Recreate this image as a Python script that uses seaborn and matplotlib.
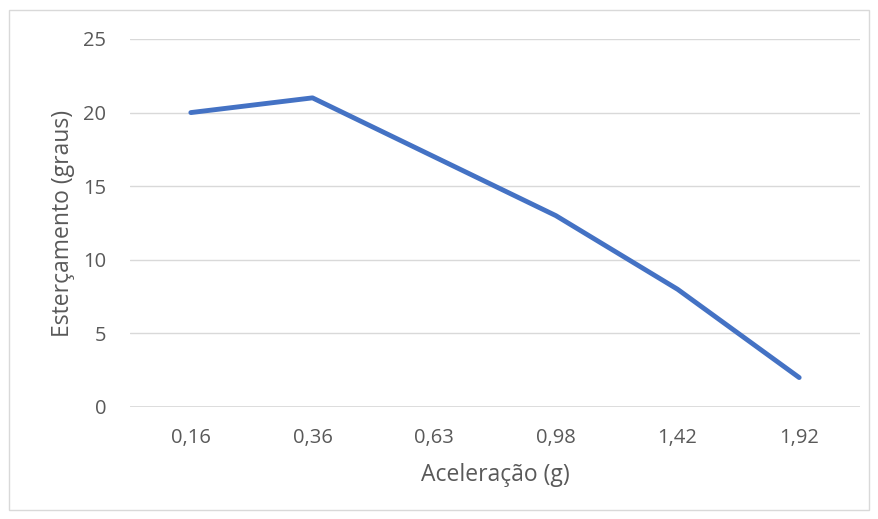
import matplotlib
matplotlib.use("Agg")
import matplotlib.pyplot as plt
import seaborn as sns
import pandas as pd
from matplotlib.patches import Rectangle

# Data
aceleracao = ['0,16', '0,36', '0,63', '0,98', '1,42', '1,92']
estercamento = [20, 21, 17, 13, 8, 2]

df = pd.DataFrame({'Aceleração': aceleracao, 'Esterçamento': estercamento})

sns.set_theme(style="white")
plt.rcParams['font.family'] = ['Open Sans', 'DejaVu Sans']

text_color = '#595959'
grid_color = '#D9D9D9'
line_color = '#4472C4'

fig = plt.figure(figsize=(8.79, 5.19), dpi=100)
ax = fig.add_axes([0.1479, 0.2158, 0.8305, 0.7091])

sns.lineplot(data=df, x='Aceleração', y='Esterçamento', sort=False,
             color=line_color, linewidth=3.5, ax=ax, solid_capstyle='round')

ax.set_xlim(-0.5, len(aceleracao) - 0.5)
ax.set_ylim(0, 25)
ax.set_yticks([0, 5, 10, 15, 20, 25])
ax.yaxis.grid(True, color=grid_color, linewidth=1)
ax.xaxis.grid(False)
for s in ax.spines.values():
    s.set_visible(False)
ax.axhline(0, color=grid_color, linewidth=1.2, zorder=0)

ax.tick_params(axis='both', length=0, labelsize=14.5, colors=text_color)
ax.tick_params(axis='y', pad=17)
ax.tick_params(axis='x', pad=15)
ax.set_xlabel('Aceleração (g)', fontsize=16.5, color=text_color, labelpad=11)
ax.set_ylabel('Esterçamento (graus)', fontsize=16.5, color=text_color, labelpad=6)

# chart border
fig.patches.append(Rectangle((9 / 879, 1 - 510 / 519), 860 / 879, 500 / 519,
                             transform=fig.transFigure, fill=False,
                             edgecolor='#D9D9D9', linewidth=1))

fig.savefig('out.png', dpi=100)
